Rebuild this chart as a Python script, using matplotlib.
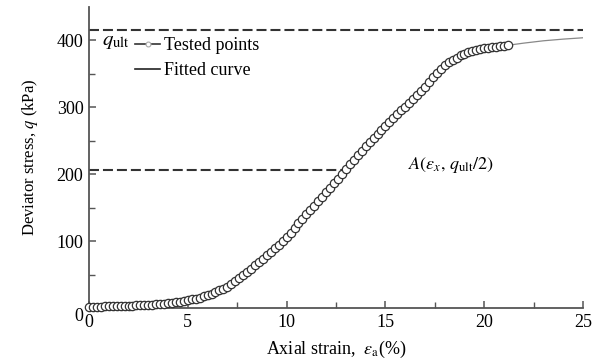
import matplotlib
matplotlib.use("Agg")
import matplotlib.pyplot as plt
from matplotlib.lines import Line2D
import matplotlib.transforms as mtransforms

plt.rcParams["font.family"] = "Liberation Serif"
plt.rcParams["mathtext.fontset"] = "stix"

# tested points: axial strain (%) and deviator stress (kPa)
strain = [0.0, 0.2, 0.4, 0.6, 0.8, 1.0, 1.2, 1.4, 1.6, 1.8,
          2.0, 2.2, 2.4, 2.6, 2.8, 3.0, 3.2, 3.4, 3.6, 3.8,
          4.0, 4.2, 4.4, 4.6, 4.8, 5.0, 5.2, 5.4, 5.6, 5.8,
          6.0, 6.2, 6.4, 6.6, 6.8, 7.0, 7.2, 7.4, 7.6, 7.8,
          8.0, 8.2, 8.4, 8.6, 8.8, 9.0, 9.2, 9.4, 9.6, 9.8,
          10.0, 10.2, 10.4, 10.6, 10.8, 11.0, 11.2, 11.4, 11.6, 11.8,
          12.0, 12.2, 12.4, 12.6, 12.8, 13.0, 13.2, 13.4, 13.6, 13.8,
          14.0, 14.2, 14.4, 14.6, 14.8, 15.0, 15.2, 15.4, 15.6, 15.8,
          16.0, 16.2, 16.4, 16.6, 16.8, 17.0, 17.2, 17.4, 17.6, 17.8,
          18.0, 18.2, 18.4, 18.6, 18.8, 19.0, 19.2, 19.4, 19.6, 19.8,
          20.0, 20.2, 20.4, 20.6, 20.8, 21.0, 21.2]
stress = [2.0, 2.0, 2.1, 2.2, 2.3, 2.4, 2.6, 2.7, 2.9, 3.1,
          3.3, 3.6, 3.9, 4.2, 4.5, 4.8, 5.2, 5.6, 6.0, 6.5,
          7.0, 7.7, 8.4, 9.2, 10.3, 11.5, 12.8, 14.2, 15.7, 17.3,
          19.0, 21.2, 23.6, 26.3, 29.1, 32.0, 35.8, 39.9, 44.3, 49.0,
          54.0, 58.8, 63.6, 68.5, 73.7, 79.0, 84.2, 89.4, 94.7, 100.3,
          106.0, 112.8, 119.6, 126.4, 133.2, 140.0, 146.6, 153.2, 159.8, 166.4,
          173.0, 179.8, 186.6, 193.6, 200.8, 208.0, 214.8, 221.6, 228.4, 235.2,
          242.0, 248.0, 254.0, 260.0, 266.0, 272.0, 278.0, 284.0, 289.8, 295.4,
          301.0, 307.0, 313.0, 319.0, 325.0, 331.0, 338.0, 345.0, 351.5, 357.5,
          363.0, 367.5, 371.3, 374.5, 377.5, 380.0, 382.0, 383.8, 385.4, 386.8,
          388.0, 389.0, 389.9, 390.7, 391.4, 392.0, 393.0]

# fitted curve
fit_strain = [0, 1, 2, 3, 4, 5, 6, 7, 8, 9, 10, 11, 12, 13, 14, 15, 16, 17,
              18, 19, 20, 21, 22, 23, 24, 25]
fit_stress = [2.0, 2.4, 3.3, 4.8, 7.0, 11.5, 19, 32, 54, 79, 106, 140, 173, 208,
              242, 272, 301, 331, 363, 380, 388, 392, 396, 399.5, 402, 404]

q_ult = 416
q_half = 206
eps_x = 12.9

fig = plt.figure(figsize=(5.98, 3.61), dpi=100)
ax = fig.add_axes([0.1488, 0.1468, 0.8262, 0.8338])

ax.plot(fit_strain, fit_stress, color="#888888", lw=0.9, zorder=2)
ax.plot(strain, stress, ls="none", marker="o", ms=6.0, mfc="white",
        mec="#333333", mew=0.9, zorder=3, clip_on=False)

dash = (4.8, 1.9)
ax.plot([0, 25], [q_ult, q_ult], color="#333333", lw=1.5, dashes=dash, zorder=1)
ax.plot([0, eps_x], [q_half, q_half], color="#333333", lw=1.5, dashes=dash, zorder=1)

ax.set_xlim(0, 25)
ax.set_ylim(0, 450)
ax.set_xticks([0, 5, 10, 15, 20, 25])
ax.set_xticks([2.5, 7.5, 12.5, 17.5, 22.5], minor=True)
ax.set_yticks([0, 100, 200, 300, 400])
ax.set_yticks([50, 150, 250, 350], minor=True)

for s in ["top", "right"]:
    ax.spines[s].set_visible(False)
for s in ["left", "bottom"]:
    ax.spines[s].set_color("#555555")
    ax.spines[s].set_linewidth(1.3)

ax.tick_params(which="both", direction="in", color="#555555", labelsize=13)
ax.tick_params(which="major", length=5, width=1.1)
ax.tick_params(which="minor", length=4, width=1.0)
ax.tick_params(axis="x", pad=4)
ax.tick_params(axis="y", pad=4)

# y-axis "0" sits a little lower in the original
ylab0 = ax.get_yticklabels()[0]
ylab0.set_transform(ylab0.get_transform() +
                    mtransforms.ScaledTranslation(0, -6 / 100, fig.dpi_scale_trans))

ax.set_xlabel(r"Axial strain,  $\varepsilon_{\rm a}$(%)", fontsize=13, labelpad=6)
ax.set_ylabel(r"Deviator stress, $q$ (kPa)", fontsize=12, labelpad=12)

ax.text(0.65, 398, r"$q_{\rm ult}$", fontsize=15, ha="left", va="center")
ax.text(16.15, 214, r"$A(\varepsilon_x,\, q_{\rm ult}/2)$", fontsize=13,
        ha="left", va="center")

handles = [
    Line2D([], [], color="#333333", lw=1.2, marker="o", ms=3.5, mfc="white",
           mec="#aaaaaa", mew=0.8),
    Line2D([], [], color="#222222", lw=1.2),
]
ax.legend(handles, ["Tested points", "Fitted curve"], loc="upper left",
          bbox_to_anchor=(0.093, 0.90), frameon=False, fontsize=13,
          handlelength=1.4, handletextpad=0.2, labelspacing=0.45,
          borderpad=0, borderaxespad=0)

fig.savefig("out.png", dpi=100)
